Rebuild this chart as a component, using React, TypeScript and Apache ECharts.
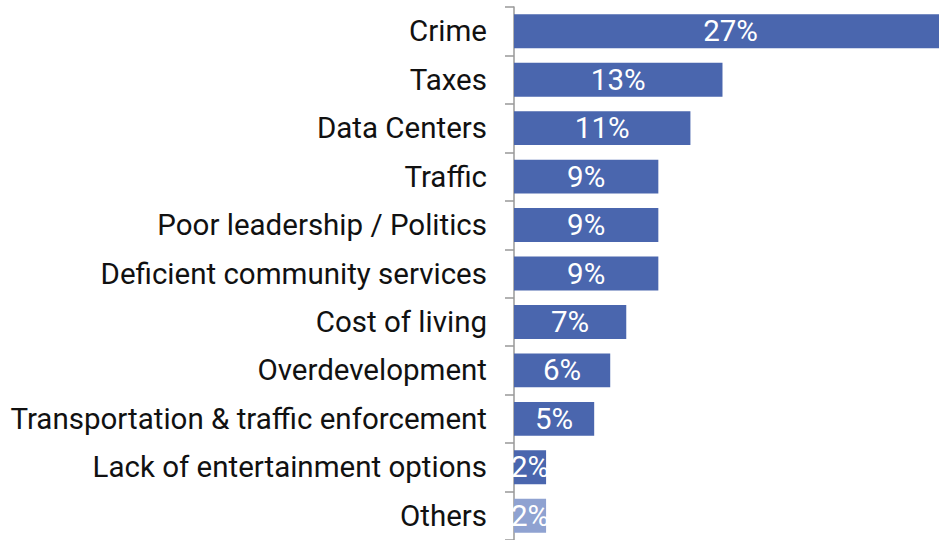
import React, { useEffect, useRef } from "react";
import * as echarts from "echarts";

const categories = [
  "Crime",
  "Taxes",
  "Data Centers",
  "Traffic",
  "Poor leadership / Politics",
  "Deficient community services",
  "Cost of living",
  "Overdevelopment",
  "Transportation & traffic enforcement",
  "Lack of entertainment options",
  "Others",
];
const values = [27, 13, 11, 9, 9, 9, 7, 6, 5, 2, 2];
const mainColor = "#4a66ae";
const othersColor = "#8fa2d1";

export default function App() {
  const ref = useRef<HTMLDivElement>(null);
  useEffect(() => {
    document.body.style.margin = "0";
    const chart = echarts.init(ref.current!, null, { renderer: "svg" });
    chart.setOption({
      animation: false,
      grid: { left: 514, right: 0, top: 7, bottom: 0, containLabel: false },
      xAxis: {
        type: "value",
        min: 0,
        max: 26.5,
        show: false,
      },
      yAxis: {
        type: "category",
        inverse: true,
        data: categories,
        axisLine: { show: true, lineStyle: { color: "#999999", width: 1.5 } },
        axisTick: { show: true, length: 9, lineStyle: { color: "#999999", width: 1.5 } },
        axisLabel: {
          margin: 27,
          fontFamily: "Roboto",
          fontSize: 29.5,
          color: "#111111",
        },
      },
      series: [
        {
          type: "bar",
          data: values.map((v, i) => ({
            value: v,
            itemStyle: { color: i === values.length - 1 ? othersColor : mainColor },
          })),
          barCategoryGap: "30%",
          clip: false,
          label: {
            show: true,
            position: "inside",
            formatter: "{c}%",
            fontFamily: "Roboto",
            fontSize: 29.5,
            color: "#ffffff",
          },
        },
      ],
    });
    return () => chart.dispose();
  }, []);
  return <div ref={ref} style={{ width: 939, height: 540 }} />;
}
